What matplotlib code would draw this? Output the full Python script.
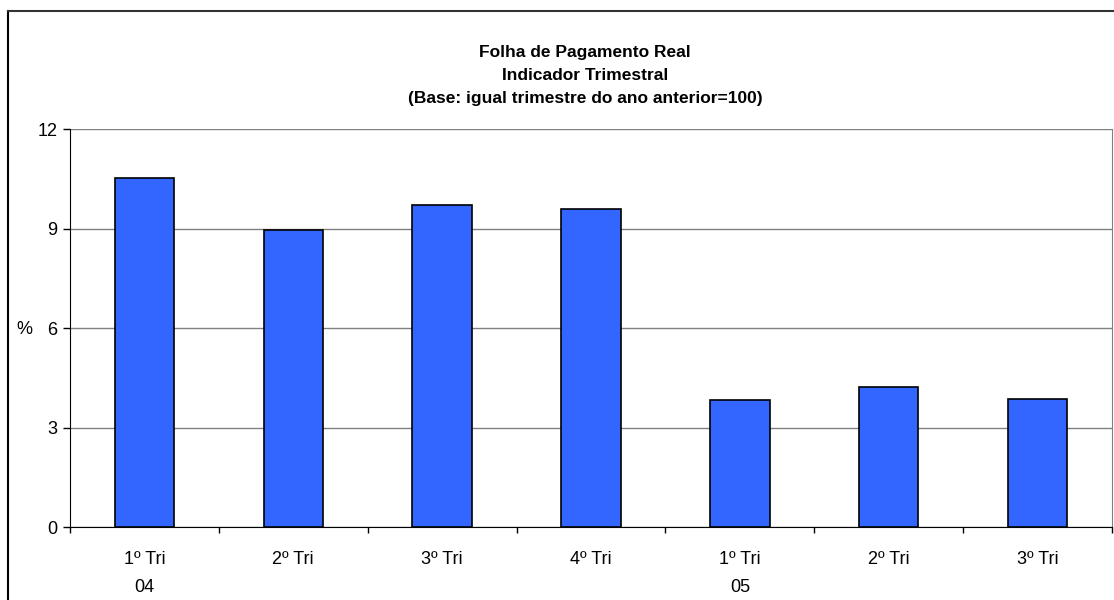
import numpy as np
import matplotlib.pyplot as plt
from matplotlib.lines import Line2D

# dados
trimestres = ['1º Tri\n04', '2º Tri', '3º Tri', '4º Tri', '1º Tri\n05', '2º Tri', '3º Tri']
valores = [10.54, 8.96, 9.73, 9.60, 3.82, 4.21, 3.85]
yticks = [0, 3, 6, 9, 12]

plt.rcParams['font.family'] = ['Liberation Sans', 'DejaVu Sans']

W, H = 1114, 600
fig = plt.figure(figsize=(W / 100, H / 100), dpi=100)
ax = fig.add_axes([70 / W, 1 - 527 / H, (1112 - 70) / W, (527 - 129.3) / H])

x = np.arange(len(valores))
ax.bar(x, valores, width=0.40, color='#3366FF', edgecolor='black', linewidth=1.2, zorder=3)

ax.set_xlim(-0.5, len(valores) - 0.5)
ax.set_ylim(0, 12)
ax.set_yticks(yticks)
ax.set_yticklabels([str(v) for v in yticks], fontsize=13)
ax.yaxis.grid(True, color='#808080', linewidth=1)
ax.set_axisbelow(True)

ax.set_xticks(x)
ax.set_xticklabels(trimestres, fontsize=13, linespacing=1.9, va='top')
ax.set_xticks(np.arange(-0.5, len(valores)), minor=True)
ax.tick_params(axis='x', which='major', length=0, pad=17)
ax.tick_params(axis='x', which='minor', length=4.5, width=1, color='black')
ax.tick_params(axis='y', length=5, width=1, pad=4, color='black')

ax.spines['top'].set_visible(False)
ax.spines['right'].set_color('#808080')
ax.spines['left'].set_color('black')
ax.spines['bottom'].set_color('black')

# titulo em tres linhas
titulos = ['Folha de Pagamento Real', 'Indicador Trimestral',
           '(Base: igual trimestre do ano anterior=100)']
for i, t in enumerate(titulos):
    fig.text(585 / W, 1 - (52.5 + 23 * i) / H, t, ha='center', va='center',
             fontsize=12.5, fontweight='bold')

fig.text(24 / W, 1 - 330 / H, '%', ha='center', va='center', fontsize=13)

# moldura externa
fig.add_artist(Line2D([8 / W, 8 / W], [0, 1 - 11 / H], color='black', linewidth=1.5, transform=fig.transFigure))
fig.add_artist(Line2D([8 / W, 1], [1 - 11 / H, 1 - 11 / H], color='#333333', linewidth=1.5, transform=fig.transFigure))

fig.savefig('out.png', dpi=100)
